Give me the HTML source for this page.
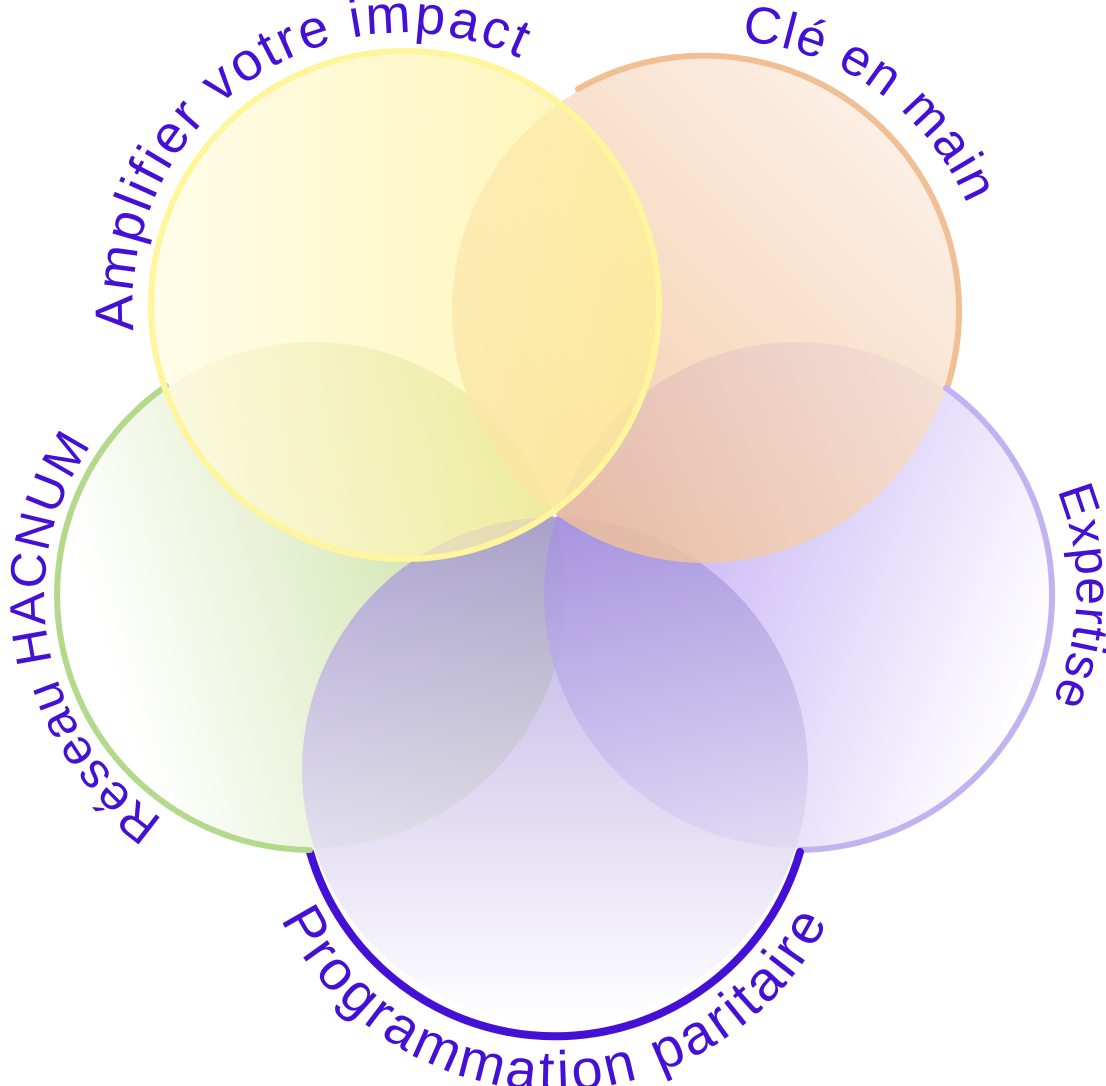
<!DOCTYPE html>
<html><head><meta charset="utf-8"><style>
html,body{margin:0;padding:0;background:#fff;width:1106px;height:1086px;overflow:hidden}
svg{display:block}
text{font-family:"Liberation Sans",sans-serif;fill:#4410d6}
</style></head><body>
<svg width="1106" height="1086" viewBox="0 0 1106 1086">
<defs>
<linearGradient id="gY" x1="0" y1="0" x2="1" y2="0"><stop offset="0" stop-color="#fffbe0"/><stop offset="1" stop-color="#fff090"/></linearGradient>
<linearGradient id="gO" x1="1" y1="0" x2="0" y2="1"><stop offset="0" stop-color="#fdf3ec"/><stop offset="1" stop-color="#eeb886"/></linearGradient>
<linearGradient id="gG" x1="0" y1="0.3" x2="1" y2="0"><stop offset="0" stop-color="#ffffff"/><stop offset="1" stop-color="#b6d47c"/></linearGradient>
<linearGradient id="gP" x1="0" y1="0.2" x2="1" y2="0.6"><stop offset="0" stop-color="#a88cf0"/><stop offset="1" stop-color="#ffffff"/></linearGradient>
<linearGradient id="gD" x1="0" y1="0" x2="0" y2="1"><stop offset="0" stop-color="#9f8ed8"/><stop offset="1" stop-color="#ffffff"/></linearGradient>
<path id="tA" d="M 142 375 A 272 272 0 0 1 561 82"/>
<path id="tC" d="M 730 40 A 272 272 0 0 1 972 216"/>
<path id="tE" d="M 1050 475 A 262 262 0 0 1 1044 717"/>
<path id="tP" d="M 262 870 A 305 305 0 0 0 848 870"/>
<path id="tR" d="M 160 817 A 268 268 0 0 1 90 447"/>
</defs>
<circle cx="313" cy="595" r="253" fill="url(#gG)" opacity="0.9"/>
<circle cx="797" cy="595" r="253" fill="url(#gP)" opacity="0.85"/>
<circle cx="555" cy="770" r="253" fill="url(#gD)" opacity="0.75"/>
<circle cx="705" cy="310" r="253" fill="url(#gO)" opacity="0.8"/>
<circle cx="405" cy="305" r="253" fill="url(#gY)" opacity="0.7"/>
<g fill="none" stroke-linecap="round">
<path d="M 578 89 A 255 255 0 0 1 948 385" stroke="#f0bf94" stroke-width="6"/>
<path d="M 946 388 A 255 255 0 0 1 800 850" stroke="#c2b2f0" stroke-width="6"/>
<path d="M 800 852 A 255 255 0 0 1 310 852" stroke="#4410d6" stroke-width="8"/>
<path d="M 310 850 A 255 255 0 0 1 166 386" stroke="#b4d88c" stroke-width="6"/>
<circle cx="405" cy="305" r="254" stroke="#fff59c" stroke-width="6"/>
</g>
<text font-size="54" letter-spacing="2.5"><textPath href="#tA" startOffset="50%" text-anchor="middle">Amplifier votre impact</textPath></text>
<text font-size="52" letter-spacing="1.5"><textPath href="#tC" startOffset="50%" text-anchor="middle">Clé en main</textPath></text>
<text font-size="50" letter-spacing="1"><textPath href="#tE" startOffset="50%" text-anchor="middle">Expertise</textPath></text>
<text font-size="56" letter-spacing="3.5"><textPath href="#tP" startOffset="50%" text-anchor="middle">Programmation paritaire</textPath></text>
<text font-size="50" letter-spacing="1.5"><textPath href="#tR" startOffset="50%" text-anchor="middle">Réseau HACNUM</textPath></text>
</svg>
</body></html>
